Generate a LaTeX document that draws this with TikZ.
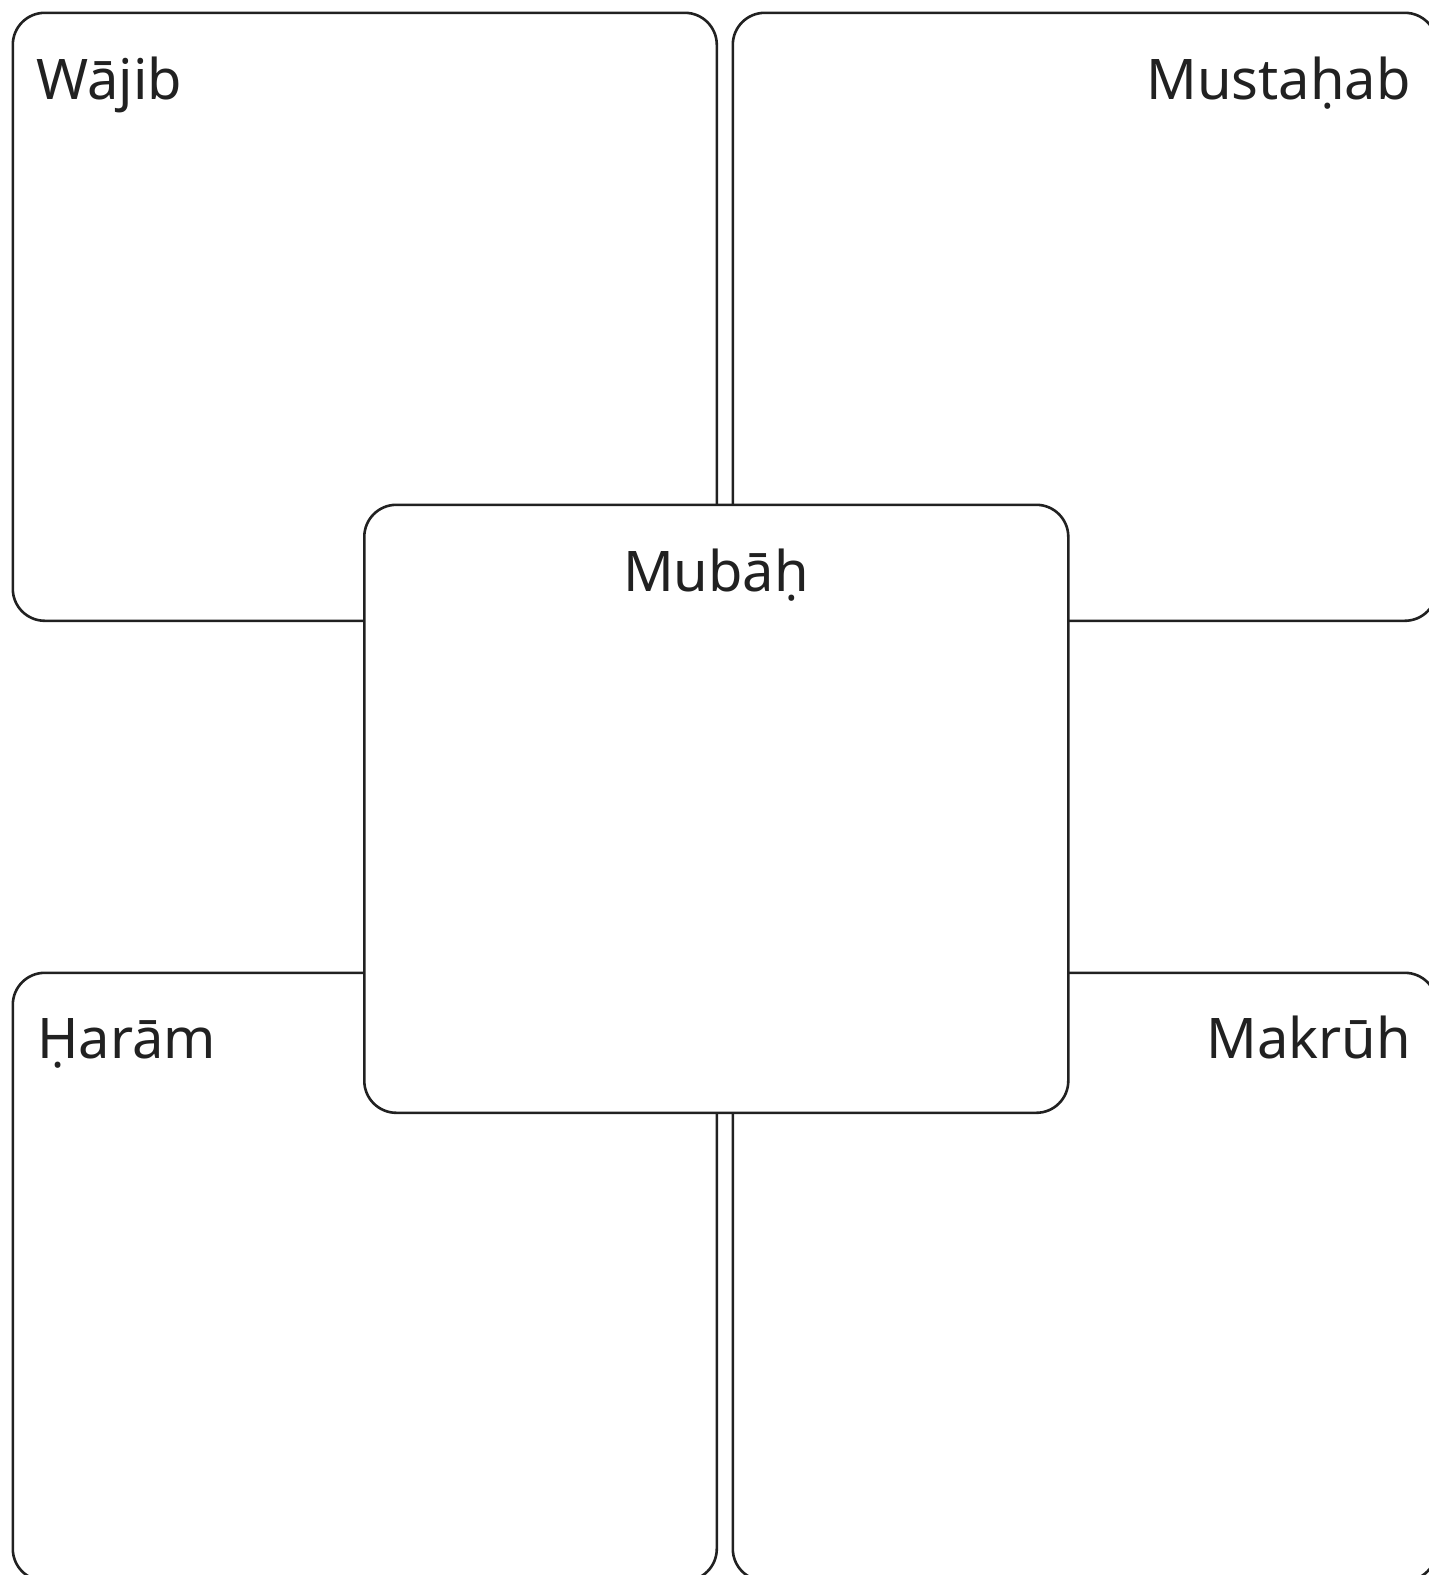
\documentclass[tikz,border=0pt]{standalone}
\usepackage{fontspec}
\setmainfont{Noto Sans}
\begin{document}
\begin{tikzpicture}[x=1pt,y=-1pt,
  card/.style={draw=black!87, line width=2.6pt, fill=white, rounded corners=32pt,
    minimum width=704pt, minimum height=608pt, inner sep=0pt, anchor=north west},
  lbl/.style={font=\fontsize{56}{58}\selectfont, text=black!87, inner sep=0pt}]
\useasboundingbox (0,0) rectangle (1429,1575);
\node[card] (wajib) at (11.5,11.5) {};
\node[card] (mustahab) at (731.5,11.5) {};
\node[card] (haram) at (11.5,971.5) {};
\node[card] (makruh) at (731.5,971.5) {};
\node[card] (mubah) at (363,503.5) {};
\node[lbl, anchor=base west] (tw) at (36,99) {Wājib};
\node[lbl, anchor=base east] (tm) at (1411,99) {Mustaḥab};
\node[lbl, anchor=base] (tc) at (716,591) {Mubāḥ};
\node[lbl, anchor=base west] (th) at (37,1058) {Ḥarām};
\node[lbl, anchor=base east] (tk) at (1411,1058) {Makrūh};
\end{tikzpicture}
\end{document}
